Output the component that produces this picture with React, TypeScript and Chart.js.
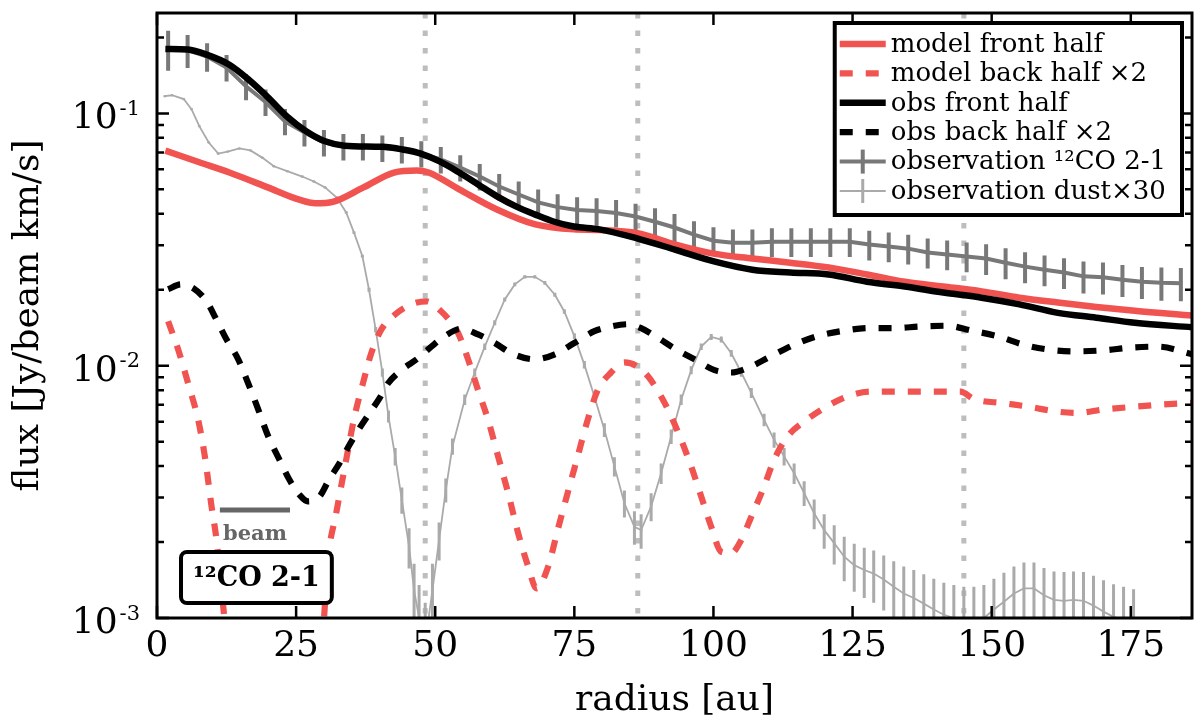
import { useEffect, useRef } from "react"
import { Chart, registerables } from "chart.js"

Chart.register(...registerables)

const SERIF = '"DejaVu Serif", serif'
const RED = "#f05350"
const BLACK = "#000000"
const CO_GRAY = "#787878"
const DUST_GRAY = "#aaaaaa"

// model front half
const modelFrontX = [1.5, 7.6, 13, 19.9, 25.4, 28.5, 31.6, 37.1, 42.6, 46.7, 48.8, 54.3, 61.1, 68, 74.9, 79.5, 86.4, 93.2, 100, 107, 113.8, 120.7, 127.6, 134.4, 141.3, 148.2, 155, 161.9, 168.8, 175.7, 186]
const modelFrontY = [0.0712, 0.064, 0.0583, 0.0509, 0.0456, 0.044, 0.0446, 0.0509, 0.0583, 0.0594, 0.0583, 0.05, 0.0416, 0.0363, 0.0347, 0.0345, 0.0335, 0.0302, 0.0278, 0.0266, 0.0256, 0.0245, 0.023, 0.0215, 0.0206, 0.0197, 0.0186, 0.0178, 0.0171, 0.0165, 0.0158]

// model back half x2
const modelBackX = [2, 3.8, 5.6, 7.4, 8.6, 9.8, 10.7, 11.6, 12.4, 20, 29.8, 30.7, 32.2, 34, 35.5, 37, 38.5, 40.3, 42.7, 45.7, 48.4, 51.1, 52.9, 54.1, 55.9, 57.7, 59.5, 61.3, 63.1, 64.9, 66.7, 68.2, 70.3, 72, 73.8, 75.6, 77.4, 79.2, 81.6, 84, 86.1, 88.2, 90.6, 92.4, 94.2, 96, 97.8, 99.6, 101.4, 103.2, 105, 106.8, 109.1, 110.9, 113.3, 116.3, 119.9, 124, 128.2, 134.2, 140.2, 144.4, 146.8, 152.2, 157, 161.2, 165.4, 170, 175.7, 180, 186]
const modelBackY = [0.015, 0.0116, 0.0085, 0.0061, 0.00437, 0.00277, 0.00204, 0.00129, 0.0009, 0.0004, 0.0009, 0.0017, 0.0026, 0.00424, 0.0063, 0.0085, 0.0112, 0.0139, 0.0159, 0.0175, 0.018, 0.0164, 0.0148, 0.0135, 0.0106, 0.008, 0.0061, 0.00437, 0.00313, 0.00217, 0.0016, 0.00131, 0.0016, 0.00223, 0.00313, 0.00437, 0.0061, 0.008, 0.0094, 0.0103, 0.01, 0.0091, 0.00755, 0.0063, 0.00508, 0.00399, 0.00303, 0.0023, 0.00183, 0.00181, 0.00204, 0.00252, 0.00332, 0.00424, 0.00524, 0.006, 0.0068, 0.00755, 0.0079, 0.0079, 0.0079, 0.0079, 0.00738, 0.0071, 0.00686, 0.0066, 0.0065, 0.0067, 0.00688, 0.007, 0.00713]

// obs front half
const obsFrontX = [1.5, 5.5, 8.9, 13, 16.5, 19.9, 23.4, 26.8, 30.2, 33.7, 40.5, 44, 47.4, 50.8, 54.3, 57.7, 61.1, 64.6, 68, 71.4, 74.9, 79.5, 86.4, 93.2, 100.1, 107, 113.8, 120.7, 127.6, 134.4, 141.3, 148.2, 155, 161.9, 168.8, 175.7, 186]
const obsFrontY = [0.18, 0.179, 0.171, 0.156, 0.136, 0.116, 0.097, 0.085, 0.0775, 0.0745, 0.0737, 0.072, 0.0693, 0.0645, 0.0583, 0.0523, 0.0469, 0.0427, 0.0397, 0.0372, 0.0356, 0.0347, 0.0319, 0.0288, 0.0259, 0.024, 0.0234, 0.023, 0.0215, 0.0206, 0.0195, 0.0186, 0.0175, 0.0162, 0.0155, 0.0148, 0.0142]

// obs back half x2
const obsBackX = [2, 4.3, 6.5, 8.9, 10.7, 12.5, 14.6, 16.4, 18.2, 20, 22, 23.8, 25.6, 27.1, 29.2, 30.9, 32.8, 34.6, 36.4, 38.2, 40, 41.5, 43.9, 46.9, 49.3, 51.7, 54.7, 57.7, 60.7, 63.7, 67.9, 71.5, 75, 78.6, 81.6, 84.6, 87, 90, 93, 96.6, 100.2, 103.2, 106.2, 110.3, 114.5, 118.7, 122.9, 128.2, 132.4, 137.2, 142, 146.2, 151, 155.8, 160, 165, 170, 175, 180, 186]
const obsBackY = [0.0201, 0.021, 0.0203, 0.018, 0.0152, 0.0127, 0.0106, 0.0085, 0.0067, 0.00524, 0.00424, 0.00353, 0.00308, 0.0029, 0.00303, 0.00353, 0.00411, 0.00486, 0.00566, 0.00649, 0.00744, 0.0085, 0.0096, 0.0107, 0.0119, 0.0131, 0.014, 0.0133, 0.0123, 0.0112, 0.0106, 0.0111, 0.0123, 0.0137, 0.0143, 0.0146, 0.0141, 0.0129, 0.0117, 0.0106, 0.0096, 0.0094, 0.0098, 0.0109, 0.0121, 0.0131, 0.0137, 0.0141, 0.0141, 0.0143, 0.0144, 0.0138, 0.0131, 0.0121, 0.0116, 0.0114, 0.0115, 0.0118, 0.0119, 0.0111]

// observation 12CO 2-1 with relative errors
const coX = [2, 5.5, 9, 12.5, 16, 19.5, 23, 26.5, 30, 33.5, 37, 40.5, 44, 47.5, 51, 54.5, 58, 61.5, 65, 68.5, 72, 75.5, 79, 82.5, 86, 89.5, 93, 96.5, 100, 103.5, 107, 110.5, 114, 117.5, 121, 124.5, 128, 131.5, 135, 138.5, 142, 145.5, 149, 152.5, 156, 159.5, 163, 166.5, 170, 173.5, 177, 180.5, 184]
const coY = [0.18, 0.178, 0.168, 0.152, 0.128, 0.111, 0.093, 0.084, 0.0767, 0.074, 0.074, 0.073, 0.072, 0.0693, 0.0657, 0.061, 0.0562, 0.0513, 0.0477, 0.0444, 0.0425, 0.0414, 0.041, 0.0403, 0.039, 0.0372, 0.0353, 0.0331, 0.0313, 0.0307, 0.0307, 0.031, 0.031, 0.031, 0.031, 0.031, 0.0302, 0.0297, 0.0291, 0.0281, 0.0276, 0.0271, 0.0266, 0.0256, 0.0247, 0.024, 0.0234, 0.0226, 0.0224, 0.0219, 0.0215, 0.0213, 0.0212]
const coRelErr = [0.18, 0.15, 0.13, 0.12, 0.12, 0.12, 0.12, 0.12, 0.12, 0.12, 0.12, 0.12, 0.12, 0.12, 0.12, 0.12, 0.12, 0.12, 0.125, 0.125, 0.125, 0.125, 0.125, 0.125, 0.125, 0.13, 0.13, 0.13, 0.13, 0.13, 0.13, 0.13, 0.13, 0.13, 0.13, 0.13, 0.135, 0.135, 0.135, 0.135, 0.135, 0.135, 0.14, 0.14, 0.14, 0.14, 0.14, 0.145, 0.145, 0.145, 0.145, 0.15, 0.15]

// observation dust x30, constant absolute error
const dustX = [1.4, 2.7, 4.8, 6.2, 7.6, 9.3, 11, 12.7, 14.8, 16.8, 18.9, 21, 23.4, 26.1, 28.2, 30.2, 32.3, 34, 35.4, 36.9, 38.1, 39.3, 40.5, 41.6, 42.8, 44, 45.3, 46.2, 47.1, 48.2, 49.5, 50.7, 51.9, 53.1, 55.3, 57.1, 58.9, 60.7, 62.5, 64.3, 66.1, 67.9, 69.7, 71.5, 73.2, 75, 76.8, 78.6, 80.4, 82.2, 84, 85.8, 87, 88.8, 90.6, 92.4, 94.2, 96, 97.8, 99.6, 101.4, 103.2, 105, 106.8, 109.1, 110.9, 112.7, 114.5, 116.3, 118.1, 119.9, 121.7, 123.5, 125.3, 127.1, 128.8, 130.6, 132.4, 134.2, 136, 137.8, 139.6, 141.4, 143.2, 145, 146.8, 148.6, 150.4, 152.2, 154, 155.8, 157.6, 159.4, 161.2, 163, 164.7, 166.5, 168.3, 170.1, 171.9, 173.7, 175.5]
const dustY = [0.117, 0.118, 0.114, 0.104, 0.089, 0.0767, 0.0693, 0.0706, 0.0726, 0.0713, 0.0668, 0.0617, 0.059, 0.0562, 0.0537, 0.0509, 0.0464, 0.0405, 0.0337, 0.0272, 0.02, 0.0139, 0.0094, 0.0063, 0.00437, 0.00294, 0.00192, 0.00129, 0.001, 0.0008, 0.00129, 0.00204, 0.00322, 0.00479, 0.00733, 0.0094, 0.0119, 0.0148, 0.0183, 0.021, 0.0225, 0.0225, 0.0213, 0.0191, 0.0164, 0.0131, 0.0101, 0.00755, 0.00557, 0.00399, 0.00285, 0.0023, 0.00223, 0.00277, 0.00375, 0.00524, 0.00733, 0.0096, 0.0119, 0.013, 0.0127, 0.0112, 0.0094, 0.0078, 0.0061, 0.00508, 0.00437, 0.00375, 0.00313, 0.0026, 0.00223, 0.00198, 0.00175, 0.00162, 0.00155, 0.0015, 0.00142, 0.00133, 0.00125, 0.0012, 0.00114, 0.00108, 0.00103, 0.001, 0.00098, 0.00098, 0.001, 0.00108, 0.00116, 0.00125, 0.00131, 0.00131, 0.00123, 0.00118, 0.00117, 0.00118, 0.00117, 0.00112, 0.00106, 0.00101, 0.00098, 0.00095]
const dustErr = 0.00035

// radii of the dotted vertical markers
const gapRadii = [48.2, 86.4, 145]

// beam size bar
const beamFrom = 11.3
const beamTo = 23.9
const beamLevel = 0.00268

const xTicks = [0, 25, 50, 75, 100, 125, 150, 175]
const yTicks = [
  0.001, 0.002, 0.003, 0.004, 0.005, 0.006, 0.007, 0.008, 0.009,
  0.01, 0.02, 0.03, 0.04, 0.05, 0.06, 0.07, 0.08, 0.09,
  0.1, 0.2,
]

const isDecade = (v: number) => Math.abs(Math.log10(v) - Math.round(Math.log10(v))) < 1e-6

const pts = (xs: number[], ys: number[]) => xs.map((x, i) => ({ x, y: ys[i] }))

// dotted radius markers behind the curves
const gapLines = {
  id: "gapLines",
  beforeDatasetsDraw(chart: any) {
    const { ctx, chartArea: a, scales } = chart
    ctx.save()
    ctx.strokeStyle = "#bdbdbd"
    ctx.lineWidth = 5
    ctx.setLineDash([5.5, 12])
    for (const r of gapRadii) {
      const px = scales.x.getPixelForValue(r)
      ctx.beginPath()
      ctx.moveTo(px, a.top)
      ctx.lineTo(px, a.bottom)
      ctx.stroke()
    }
    ctx.restore()
  },
}

// vertical error bars, drawn with their own dataset
const errorBars = {
  id: "errorBars",
  afterDatasetDraw(chart: any, args: any) {
    const ds = chart.data.datasets[args.index]
    if (!ds.errorOf) return
    const { ctx, chartArea: a, scales } = chart
    ctx.save()
    ctx.beginPath()
    ctx.rect(a.left, a.top, a.width, a.height)
    ctx.clip()
    ctx.strokeStyle = ds.borderColor
    ctx.lineWidth = ds.errorWidth
    ctx.beginPath()
    ds.data.forEach((p: any, i: number) => {
      const err = ds.errorOf(i, p.y)
      const px = scales.x.getPixelForValue(p.x)
      const lo = p.y - err > 0 ? scales.y.getPixelForValue(p.y - err) : a.bottom + 5
      const hi = scales.y.getPixelForValue(p.y + err)
      ctx.moveTo(px, lo)
      ctx.lineTo(px, hi)
    })
    ctx.stroke()
    ctx.restore()
  },
}

// box frame, inward ticks on all sides, and 10^n labels with a raised exponent
const frameTicks = {
  id: "frameTicks",
  afterDatasetsDraw(chart: any) {
    const { ctx, chartArea: a, scales } = chart
    ctx.save()
    ctx.strokeStyle = BLACK
    ctx.lineWidth = 2.5
    ctx.beginPath()
    for (const t of xTicks) {
      const px = scales.x.getPixelForValue(t)
      ctx.moveTo(px, a.bottom)
      ctx.lineTo(px, a.bottom - 12)
      ctx.moveTo(px, a.top)
      ctx.lineTo(px, a.top + 12)
    }
    for (const t of yTicks) {
      const py = scales.y.getPixelForValue(t)
      const len = isDecade(t) ? 12 : 7
      ctx.moveTo(a.left, py)
      ctx.lineTo(a.left + len, py)
      ctx.moveTo(a.right, py)
      ctx.lineTo(a.right - len, py)
    }
    ctx.stroke()
    ctx.lineWidth = 3
    ctx.strokeRect(a.left, a.top, a.width, a.height)

    ctx.fillStyle = BLACK
    ctx.textAlign = "right"
    ctx.textBaseline = "alphabetic"
    for (const t of yTicks.filter(isDecade)) {
      const py = scales.y.getPixelForValue(t)
      const exp = String(Math.round(Math.log10(t)))
      ctx.font = `21px ${SERIF}`
      const ew = ctx.measureText(exp).width
      ctx.fillText(exp, a.left - 17, py + 1.5)
      ctx.font = `36px ${SERIF}`
      ctx.fillText("10", a.left - 19 - ew, py + 15)
    }
    ctx.restore()
  },
}

// beam bar and the line label box
const annotations = {
  id: "annotations",
  afterDatasetsDraw(chart: any) {
    const { ctx, chartArea: a, scales } = chart
    ctx.save()
    const x1 = scales.x.getPixelForValue(beamFrom)
    const x2 = scales.x.getPixelForValue(beamTo)
    const by = scales.y.getPixelForValue(beamLevel)
    ctx.strokeStyle = "#666666"
    ctx.lineWidth = 5
    ctx.beginPath()
    ctx.moveTo(x1, by)
    ctx.lineTo(x2, by)
    ctx.stroke()
    ctx.fillStyle = "#666666"
    ctx.font = `bold 21px ${SERIF}`
    ctx.textAlign = "center"
    ctx.textBaseline = "alphabetic"
    ctx.fillText("beam", (x1 + x2) / 2, by + 30)

    const label = "\u00b9\u00b2CO 2-1"
    ctx.font = `bold 27px ${SERIF}`
    const tw = ctx.measureText(label).width
    const bx = a.left + 24
    const bh = 51
    const bw = tw + 24
    const bt = a.bottom - 15 - bh
    ctx.beginPath()
    ctx.roundRect(bx, bt, bw, bh, 6)
    ctx.fillStyle = "#ffffff"
    ctx.fill()
    ctx.lineWidth = 4
    ctx.strokeStyle = BLACK
    ctx.stroke()
    ctx.fillStyle = BLACK
    ctx.textAlign = "left"
    ctx.fillText(label, bx + 12, bt + 34)
    ctx.restore()
  },
}

// framed legend in the upper right
const boxLegend = {
  id: "boxLegend",
  afterDraw(chart: any) {
    const { ctx, chartArea: a } = chart
    const items = chart.data.datasets
    ctx.save()
    ctx.font = `26px ${SERIF}`
    const textW = Math.max(...items.map((d: any) => ctx.measureText(d.label).width))
    const sample = 46
    const padL = 5
    const gap = 5
    const padR = 16
    const rowH = 29.4
    const w = padL + sample + gap + textW + padR
    const h = 21 + rowH * (items.length - 1) + 24
    const right = a.right - 10
    const top = a.top + 10
    const left = right - w
    ctx.fillStyle = "#ffffff"
    ctx.fillRect(left, top, w, h)
    ctx.lineWidth = 4
    ctx.strokeStyle = BLACK
    ctx.strokeRect(left, top, w, h)
    items.forEach((d: any, i: number) => {
      const cy = top + 21 + i * rowH
      const sx = left + padL
      ctx.strokeStyle = d.borderColor
      ctx.lineWidth = d.borderWidth
      ctx.setLineDash(d.borderDash ?? [])
      ctx.beginPath()
      ctx.moveTo(sx, cy)
      ctx.lineTo(sx + sample, cy)
      ctx.stroke()
      ctx.setLineDash([])
      if (d.errorOf) {
        ctx.lineWidth = d.errorWidth
        ctx.beginPath()
        ctx.moveTo(sx + sample / 2, cy - 12)
        ctx.lineTo(sx + sample / 2, cy + 12)
        ctx.stroke()
      }
      ctx.fillStyle = BLACK
      ctx.textAlign = "left"
      ctx.textBaseline = "middle"
      ctx.fillText(d.label, sx + sample + gap, cy + 1)
    })
    ctx.restore()
  },
}

export default function App() {
  const chartRef = useRef<HTMLCanvasElement>(null)
  const chartInstance = useRef<Chart | null>(null)

  useEffect(() => {
    if (!chartRef.current) return
    if (chartInstance.current) chartInstance.current.destroy()

    const ctx = chartRef.current.getContext("2d")
    if (!ctx) return

    Chart.defaults.font.family = SERIF
    Chart.defaults.color = BLACK

    const smooth = { pointRadius: 0, cubicInterpolationMode: "monotone", clip: 0 }

    chartInstance.current = new Chart(ctx, {
      type: "line",
      data: {
        datasets: [
          { ...smooth, label: "model front half", data: pts(modelFrontX, modelFrontY), borderColor: RED, borderWidth: 6.5, order: 2 },
          { ...smooth, label: "model back half \u00d72", data: pts(modelBackX, modelBackY), borderColor: RED, borderWidth: 6.2, borderDash: [13, 13], order: 4 },
          { ...smooth, label: "obs front half", data: pts(obsFrontX, obsFrontY), borderColor: BLACK, borderWidth: 6.5, order: 1 },
          { ...smooth, label: "obs back half \u00d72", data: pts(obsBackX, obsBackY), borderColor: BLACK, borderWidth: 6.2, borderDash: [13, 13], order: 3 },
          {
            label: "observation \u00b9\u00b2CO 2-1",
            data: pts(coX, coY),
            borderColor: CO_GRAY,
            borderWidth: 4,
            pointRadius: 0,
            clip: 0,
            order: 5,
            errorWidth: 4,
            errorOf: (i: number, v: number) => v * coRelErr[i],
          },
          {
            label: "observation dust\u00d730",
            data: pts(dustX, dustY),
            borderColor: DUST_GRAY,
            borderWidth: 1.8,
            pointRadius: 1.6,
            pointStyle: "rect",
            pointBackgroundColor: DUST_GRAY,
            pointBorderWidth: 0,
            clip: 0,
            order: 6,
            errorWidth: 3,
            errorOf: () => dustErr,
          },
        ] as any,
      },
      options: {
        animation: false,
        responsive: true,
        maintainAspectRatio: false,
        layout: { padding: { top: 13, right: 8, left: 0, bottom: 0 } },
        plugins: {
          legend: { display: false },
          tooltip: { enabled: false },
        },
        scales: {
          x: {
            type: "linear",
            min: 0,
            max: 186,
            afterBuildTicks: (s: any) => {
              s.ticks = xTicks.map((v) => ({ value: v }))
            },
            afterFit: (s: any) => {
              s.height = 109
            },
            grid: { display: false, drawTicks: false },
            border: { display: false },
            ticks: { font: { size: 36 }, color: BLACK, padding: 7, maxRotation: 0, autoSkip: false },
            title: { display: true, text: "radius [au]", font: { size: 36 }, color: BLACK, padding: { top: 0, bottom: 5 } },
          },
          y: {
            type: "logarithmic",
            min: 0.001,
            max: 0.25,
            afterBuildTicks: (s: any) => {
              s.ticks = yTicks.map((v) => ({ value: v }))
            },
            afterFit: (s: any) => {
              s.width = 157
            },
            grid: { display: false, drawTicks: false },
            border: { display: false },
            ticks: { display: false },
            title: { display: true, text: "flux [Jy/beam km/s]", font: { size: 36 }, color: BLACK, padding: { top: 7, bottom: 0 } },
          },
        },
      } as any,
      plugins: [gapLines, errorBars, frameTicks, annotations, boxLegend],
    })

    return () => {
      if (chartInstance.current) {
        chartInstance.current.destroy()
        chartInstance.current = null
      }
    }
  }, [])

  return (
    <div style={{ position: "absolute", left: 0, top: 0, width: 1200, height: 727, background: "#fff" }}>
      <canvas ref={chartRef} />
    </div>
  )
}
